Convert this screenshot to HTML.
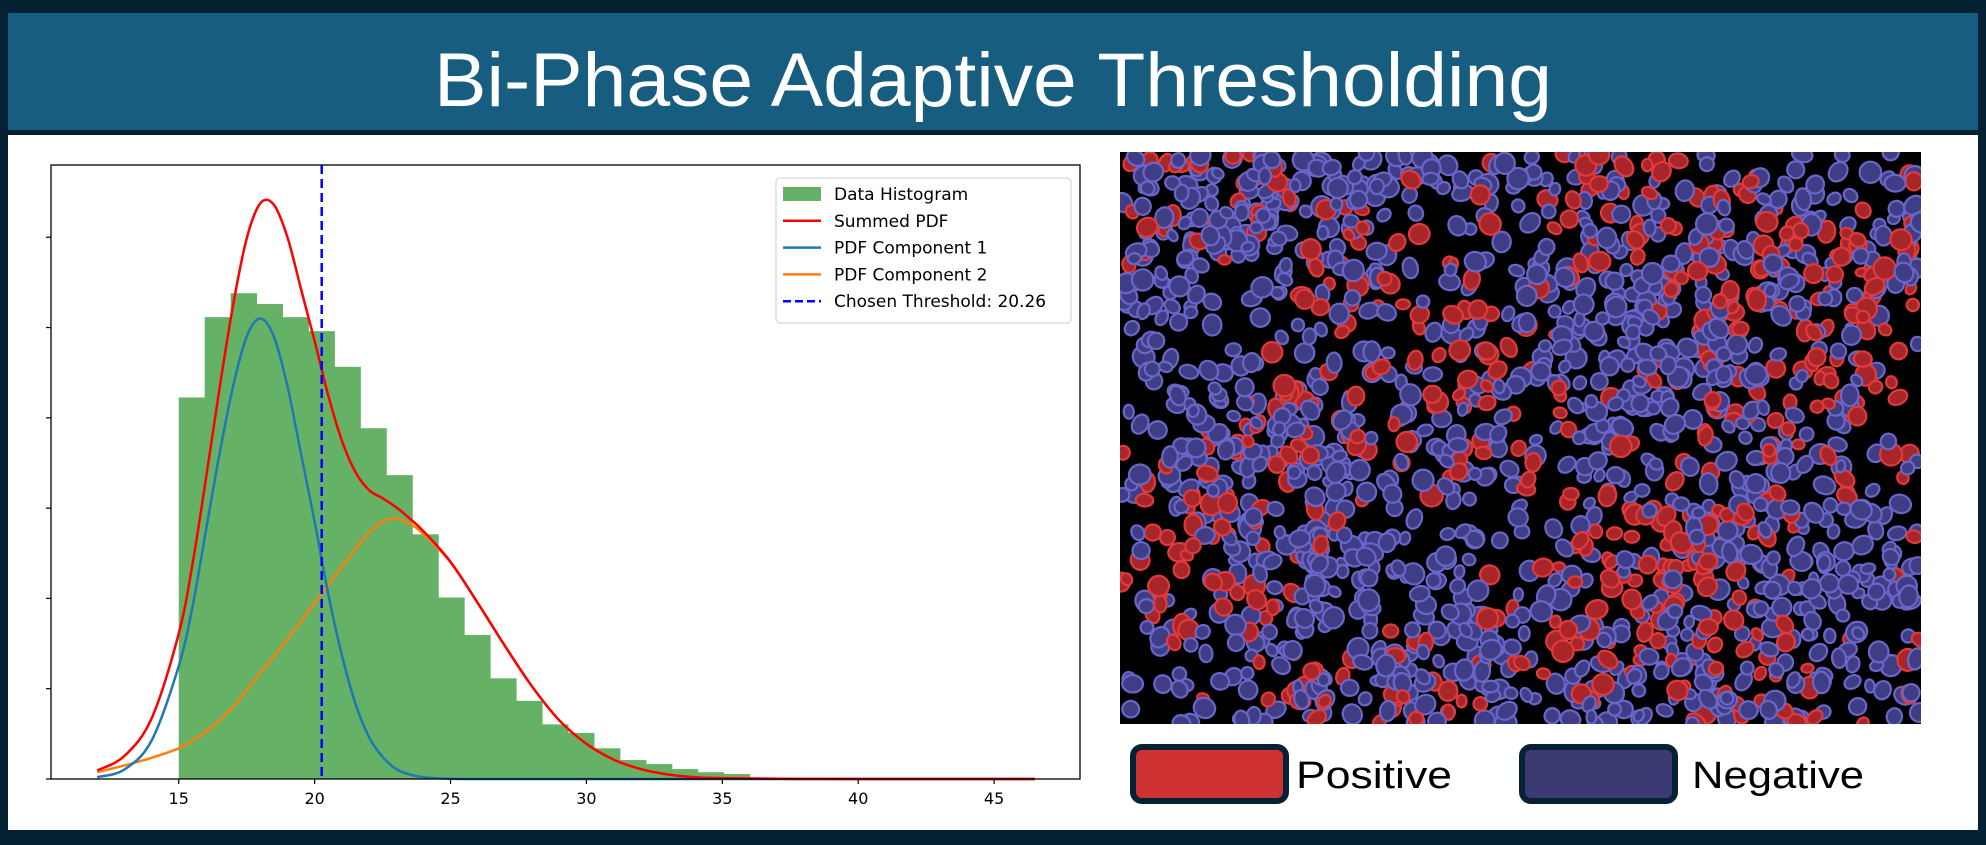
<!DOCTYPE html>
<html><head><meta charset="utf-8">
<style>
html,body{margin:0;padding:0;background:#062133;}
body{width:1986px;height:840px;overflow:hidden;position:relative;font-family:"Liberation Sans",sans-serif;}
</style></head>
<body>
<svg id="root" width="1986" height="840" viewBox="0 0 1986 840" xmlns="http://www.w3.org/2000/svg">
  <rect x="0" y="0" width="1986" height="840" fill="#062133"/>
  <rect x="8" y="13" width="1970" height="117" fill="#175d80"/>
  <text x="993" y="106" text-anchor="middle" font-size="76" fill="#ffffff" textLength="1118" lengthAdjust="spacingAndGlyphs" font-family="Liberation Sans, sans-serif">Bi-Phase Adaptive Thresholding</text>
  <rect x="8" y="135" width="1970" height="695" fill="#ffffff"/>
  <g id="chart"></g>
  <g id="cells"></g>
  <g>
    <rect x="1133" y="747" width="153" height="54" rx="9" fill="#ce3232" stroke="#062133" stroke-width="6"/>
    <text x="1296" y="788" font-size="38" fill="#000" textLength="156" lengthAdjust="spacingAndGlyphs" font-family="Liberation Sans Narrow, Liberation Sans, sans-serif">Positive</text>
    <rect x="1522" y="747" width="153" height="54" rx="9" fill="#3b3a72" stroke="#062133" stroke-width="6"/>
    <text x="1692" y="788" font-size="38" fill="#000" textLength="172" lengthAdjust="spacingAndGlyphs" font-family="Liberation Sans Narrow, Liberation Sans, sans-serif">Negative</text>
  </g>
</svg>
<script>
// ---- chart data ----
const binStart = 15.0;
const binWidth = 0.955;
const histValues = [0.0845,0.1023,0.1076,0.1052,0.1023,0.0992,0.0913,0.0777,0.0673,0.0542,0.0402,0.0319,0.0223,0.0173,0.0121,0.0102,0.0068,0.0042,0.0033,0.0022,0.0015,0.0011];
const curveX = [12,13,14,15,15.5,16,16.5,17,17.5,18,18.5,19,19.5,20,20.5,21,21.5,22,22.5,23,23.5,24,25,26,27,28,29,30,31,32,33,34,35,37,40,46.5];
const comp1 = [0.0004,0.0021,0.0085,0.0250,0.0380,0.0550,0.0720,0.0870,0.0980,0.1020,0.0980,0.0870,0.0720,0.0570,0.0410,0.0275,0.0167,0.0093,0.0049,0.0022,0.0010,0.0004,0.00005,0,0,0,0,0,0,0,0,0,0,0,0,0];
const comp2 = [0.0015,0.0030,0.0047,0.0068,0.0085,0.0105,0.0130,0.0160,0.0197,0.0235,0.0272,0.0310,0.0350,0.0390,0.0430,0.0470,0.0510,0.0545,0.0570,0.0577,0.0565,0.0543,0.0480,0.0390,0.0295,0.0205,0.0130,0.0078,0.0043,0.0022,0.0010,0.0004,0.0002,0.00005,0,0];
const summed = [0.0019,0.0051,0.0134,0.0322,0.0474,0.0665,0.0865,0.1050,0.1197,0.1275,0.1272,0.1200,0.1085,0.0970,0.0850,0.0750,0.0680,0.0640,0.0622,0.0602,0.0577,0.0549,0.0481,0.0390,0.0295,0.0205,0.0130,0.0078,0.0043,0.0022,0.0010,0.0004,0.0002,0.00005,0,0];
const threshold = 20.26;
const xTicks = [15,20,25,30,35,40,45];
const yTicks = [0,0.02,0.04,0.06,0.08,0.10,0.12];
const legendLabels = ["Data Histogram","Summed PDF","PDF Component 1","PDF Component 2","Chosen Threshold: 20.26"];

const NS = "http://www.w3.org/2000/svg";
const L = 51, R = 1080, T = 165, B = 779;
const xMin = 10.3, xMax = 48.16, yMax = 0.136;
function sx(v){ return L + (v - xMin) / (xMax - xMin) * (R - L); }
function sy(v){ return B - v / yMax * (B - T); }
function mk(tag, attrs, parent){
  const e = document.createElementNS(NS, tag);
  for (const k in attrs) e.setAttribute(k, attrs[k]);
  parent.appendChild(e);
  return e;
}
const chart = document.getElementById('chart');

histValues.forEach((v, i) => {
  const x0 = sx(binStart + i * binWidth), x1 = sx(binStart + (i + 1) * binWidth);
  const r = mk('rect', {x: x0, y: sy(v), width: x1 - x0 + 0.4, height: sy(0) - sy(v), fill: '#65b166'}, chart);
  
  
});

function smoothPath(xs, ys){
  const pts = xs.map((x, i) => [sx(x), sy(ys[i])]);
  let d = 'M' + pts[0][0] + ',' + pts[0][1];
  for (let i = 0; i < pts.length - 1; i++){
    const p0 = pts[Math.max(0, i - 1)], p1 = pts[i], p2 = pts[i + 1], p3 = pts[Math.min(pts.length - 1, i + 2)];
    const c1x = p1[0] + (p2[0] - p0[0]) / 6, c1y = p1[1] + (p2[1] - p0[1]) / 6;
    const c2x = p2[0] - (p3[0] - p1[0]) / 6, c2y = p2[1] - (p3[1] - p1[1]) / 6;
    d += ' C' + c1x + ',' + c1y + ' ' + c2x + ',' + c2y + ' ' + p2[0] + ',' + p2[1];
  }
  return d;
}
const p2 = mk('path', {d: smoothPath(curveX, comp2), fill: 'none', stroke: '#ff7f0e', 'stroke-width': 2.5}, chart);


const p1 = mk('path', {d: smoothPath(curveX, comp1), fill: 'none', stroke: '#1f77b4', 'stroke-width': 2.5}, chart);


const ps = mk('path', {d: smoothPath(curveX, summed), fill: 'none', stroke: '#ff0000', 'stroke-width': 2.5}, chart);


const th = mk('line', {x1: sx(threshold), x2: sx(threshold), y1: T, y2: B, stroke: '#0000ff', 'stroke-width': 2.5, 'stroke-dasharray': '9,5'}, chart);



const fr = mk('rect', {x: L, y: T, width: R - L, height: B - T, fill: 'none', stroke: '#000', 'stroke-width': 1.3}, chart);


xTicks.forEach(t => {
  mk('line', {x1: sx(t), x2: sx(t), y1: B, y2: B + 5, stroke: '#000', 'stroke-width': 1.2}, chart);
  const tx = mk('text', {x: sx(t), y: B + 25, 'text-anchor': 'middle', 'font-size': 16, fill: '#000', 'font-family': 'DejaVu Sans, sans-serif'}, chart);
  tx.textContent = t;
  
  
});
yTicks.forEach(t => {
  const tk = mk('line', {x1: L - 5, x2: L, y1: sy(t), y2: sy(t), stroke: '#000', 'stroke-width': 1.2}, chart);
  
  
});

const lg = mk('g', {}, chart);


mk('rect', {x: 776, y: 178, width: 295, height: 145, rx: 4, fill: '#fff', stroke: '#d8d8d8', 'stroke-width': 1.3}, lg);
const lcols = ['#65b166', '#ff0000', '#1f77b4', '#ff7f0e', '#0000ff'];
legendLabels.forEach((s, i) => {
  const y = 194 + i * 26.8;
  if (i === 0) mk('rect', {x: 783, y: y - 7, width: 38, height: 14, fill: lcols[0]}, lg);
  else mk('line', {x1: 783, x2: 821, y1: y, y2: y, stroke: lcols[i], 'stroke-width': 2.5, 'stroke-dasharray': i === 4 ? '8,4' : 'none'}, lg);
  const t = mk('text', {x: 834, y: y + 6, 'font-size': 17, fill: '#000', 'font-family': 'DejaVu Sans, sans-serif'}, lg);
  t.textContent = s;
  
  
});

// ---- cell image (decorative texture) ----
const cells = document.getElementById('cells');
const IX = 1120, IY = 152, IW = 801, IH = 572;
mk('rect', {x: IX, y: IY, width: IW, height: IH, fill: '#000'}, cells);
const clip = mk('clipPath', {id: 'imgclip'}, cells);
mk('rect', {x: IX, y: IY, width: IW, height: IH}, clip);
const cg = mk('g', {'clip-path': 'url(#imgclip)'}, cells);
let seed = 12345;
function rnd(){ seed = (seed * 1664525 + 1013904223) >>> 0; return seed / 4294967296; }
for (let i = 0; i < 2600; i++){
  const x = IX + rnd() * IW, y = IY + rnd() * IH;
  const u = (x - IX) / IW, v = (y - IY) / IH;
  const dens = 0.5 + 0.45 * Math.sin(u * 9 + v * 5) * Math.cos(v * 7 - u * 3);
  if (rnd() > dens + 0.2) continue;
  const redP = 0.22 + 0.3 * Math.sin(u * 11 + 1) * Math.sin(v * 8 + 2) + 0.15 * u;
  const red = rnd() < redP;
  const rx = 6 + rnd() * 5, ry = rx * (0.7 + rnd() * 0.35), rot = rnd() * 180;
  mk('ellipse', {cx: x, cy: y, rx: rx, ry: ry, transform: 'rotate(' + rot + ' ' + x + ' ' + y + ')',
    fill: red ? '#a8262a' : '#3f3d85', stroke: red ? '#e03a3a' : '#6a66c8', 'stroke-width': 2.2}, cg);
}
</script>
</body></html>
